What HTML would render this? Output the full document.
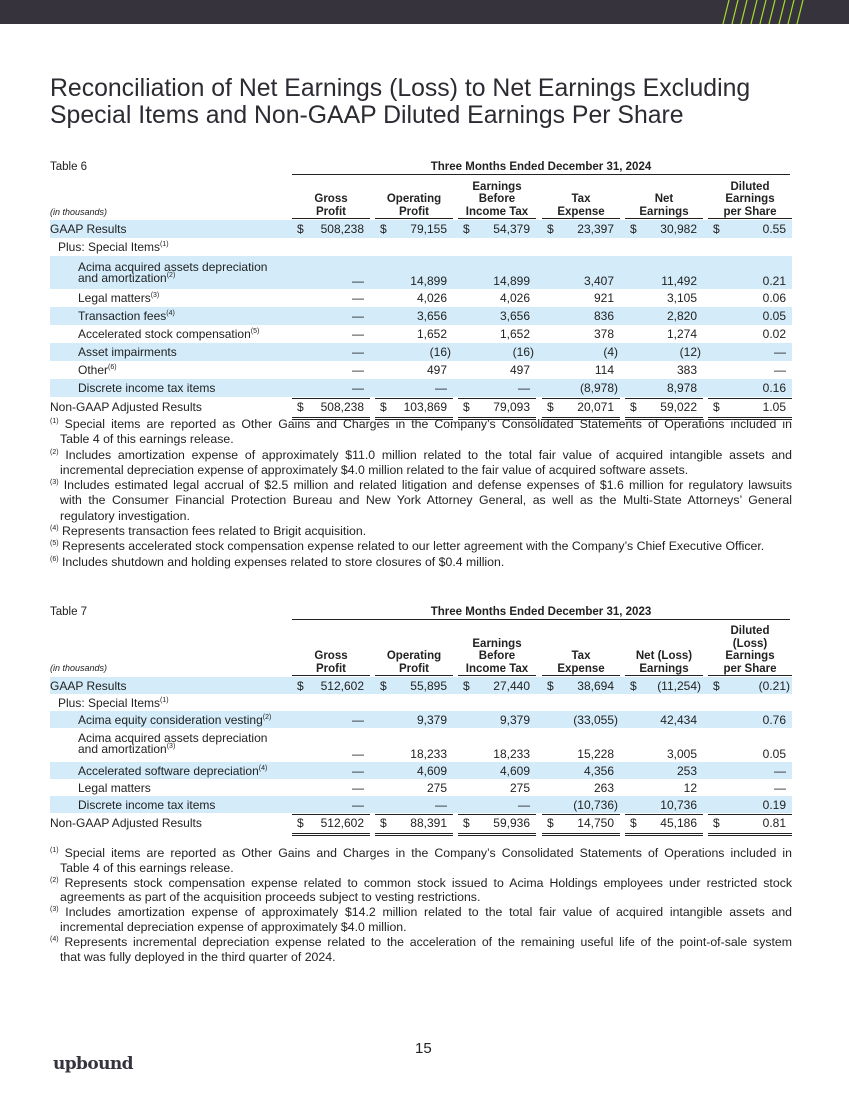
<!DOCTYPE html>
<html><head><meta charset="utf-8"><style>
*{margin:0;padding:0;box-sizing:border-box}
body{width:849px;height:1100px;position:relative;background:#fff;font-family:"Liberation Sans",Arial,sans-serif;color:#222;overflow:hidden}
.bar{position:absolute;left:0;top:0;width:849px;height:24px;background:#36333d;overflow:hidden}
.title{position:absolute;left:50px;top:75px;font-size:24.8px;line-height:27px;color:#2d2a32}
.tbl{position:absolute;left:50px;width:742px}
.tlab{position:absolute;left:0;font-size:11.5px}
.thead{position:absolute;left:242px;width:498px;text-align:center;font-weight:bold;font-size:11.5px;border-bottom:1.5px solid #222;padding-bottom:1px}
.row{position:absolute;left:0;width:742px;font-size:12px;line-height:14px}
.blue{background:#d4ecf9}
.lab{position:absolute;left:4px}
.c{position:absolute;width:78px;height:100%}
.c .d{position:absolute;left:5px}
.c .v{position:absolute;right:6px}
.c .v.p{right:2px}
.hd{position:absolute;width:78px;text-align:center;font-weight:bold;font-size:11.5px;line-height:12.5px;border-bottom:1.5px solid #222}
.ul{border-bottom:1px solid #222}
.dbl{border-bottom:3px double #222}
.fn{position:absolute;left:50px;width:742px;font-size:12.3px}
.fn p{text-align:justify;text-align-last:justify;white-space:nowrap}
.fn p.l{text-align-last:left}
.fn p.i{padding-left:10px}
sup{font-size:7px;vertical-align:5px;line-height:0}
</style></head><body>
<div class="bar">
<svg width="849" height="24" style="position:absolute;left:0;top:0">
<g stroke="#a4dd2a" stroke-width="1.2">
<line x1="723" y1="24" x2="729" y2="0"/><line x1="732" y1="24" x2="738" y2="0"/><line x1="741" y1="24" x2="747" y2="0"/><line x1="751" y1="24" x2="757" y2="0"/><line x1="760" y1="24" x2="766" y2="0"/><line x1="769" y1="24" x2="775" y2="0"/><line x1="779" y1="24" x2="785" y2="0"/><line x1="788" y1="24" x2="794" y2="0"/><line x1="797" y1="24" x2="803" y2="0"/>
</g></svg></div>
<div class="title">Reconciliation of Net Earnings (Loss) to Net Earnings Excluding<br>Special Items and Non-GAAP Diluted Earnings Per Share</div>

<!-- TABLE 6 -->
<div class="tbl" style="top:160px;height:260px">
<div class="tlab" style="top:1px">Table 6</div>
<div class="thead" style="top:1px">Three Months Ended December 31, 2024</div>
<div class="tlab" style="top:47px;font-size:9px;font-style:italic">(in thousands)</div>
<div class="hd" style="left:242px;top:33px">Gross<br>Profit</div>
<div class="hd" style="left:325px;top:33px">Operating<br>Profit</div>
<div class="hd" style="left:408px;top:20.5px">Earnings<br>Before<br>Income Tax</div>
<div class="hd" style="left:492px;top:33px">Tax<br>Expense</div>
<div class="hd" style="left:575px;top:33px">Net<br>Earnings</div>
<div class="hd" style="left:658px;top:20.5px;width:84px">Diluted<br>Earnings<br>per Share</div>

<div class="row blue" style="top:60px;height:18px;padding-top:2px"><span class="lab" style="left:0">GAAP Results</span>
<div class="c" style="left:242px"><span class="d">$</span><span class="v">508,238</span></div>
<div class="c" style="left:325px"><span class="d">$</span><span class="v">79,155</span></div>
<div class="c" style="left:408px"><span class="d">$</span><span class="v">54,379</span></div>
<div class="c" style="left:492px"><span class="d">$</span><span class="v">23,397</span></div>
<div class="c" style="left:575px"><span class="d">$</span><span class="v">30,982</span></div>
<div class="c" style="left:658px;width:84px"><span class="d">$</span><span class="v">0.55</span></div></div>
<div class="row" style="top:78px;height:18px;padding-top:2px"><span class="lab" style="left:8px">Plus: Special Items<sup>(1)</sup></span></div>
<div class="row blue" style="top:96px;height:33px"><span class="lab" style="left:28px;top:6px;line-height:11px">Acima acquired assets depreciation<br>and amortization<sup>(2)</sup></span>
<div class="c" style="left:242px;top:18px"><span class="v">—</span></div>
<div class="c" style="left:325px;top:18px"><span class="v">14,899</span></div>
<div class="c" style="left:408px;top:18px"><span class="v">14,899</span></div>
<div class="c" style="left:492px;top:18px"><span class="v">3,407</span></div>
<div class="c" style="left:575px;top:18px"><span class="v">11,492</span></div>
<div class="c" style="left:658px;width:84px;top:18px"><span class="v">0.21</span></div></div>
<div class="row" style="top:129px;height:18px;padding-top:2px"><span class="lab" style="left:28px">Legal matters<sup>(3)</sup></span>
<div class="c" style="left:242px"><span class="v">—</span></div><div class="c" style="left:325px"><span class="v">4,026</span></div><div class="c" style="left:408px"><span class="v">4,026</span></div><div class="c" style="left:492px"><span class="v">921</span></div><div class="c" style="left:575px"><span class="v">3,105</span></div><div class="c" style="left:658px;width:84px"><span class="v">0.06</span></div></div>
<div class="row blue" style="top:147px;height:18px;padding-top:2px"><span class="lab" style="left:28px">Transaction fees<sup>(4)</sup></span>
<div class="c" style="left:242px"><span class="v">—</span></div><div class="c" style="left:325px"><span class="v">3,656</span></div><div class="c" style="left:408px"><span class="v">3,656</span></div><div class="c" style="left:492px"><span class="v">836</span></div><div class="c" style="left:575px"><span class="v">2,820</span></div><div class="c" style="left:658px;width:84px"><span class="v">0.05</span></div></div>
<div class="row" style="top:165px;height:18px;padding-top:2px"><span class="lab" style="left:28px">Accelerated stock compensation<sup>(5)</sup></span>
<div class="c" style="left:242px"><span class="v">—</span></div><div class="c" style="left:325px"><span class="v">1,652</span></div><div class="c" style="left:408px"><span class="v">1,652</span></div><div class="c" style="left:492px"><span class="v">378</span></div><div class="c" style="left:575px"><span class="v">1,274</span></div><div class="c" style="left:658px;width:84px"><span class="v">0.02</span></div></div>
<div class="row blue" style="top:183px;height:18px;padding-top:2px"><span class="lab" style="left:28px">Asset impairments</span>
<div class="c" style="left:242px"><span class="v">—</span></div><div class="c" style="left:325px"><span class="v p">(16)</span></div><div class="c" style="left:408px"><span class="v p">(16)</span></div><div class="c" style="left:492px"><span class="v p">(4)</span></div><div class="c" style="left:575px"><span class="v p">(12)</span></div><div class="c" style="left:658px;width:84px"><span class="v">—</span></div></div>
<div class="row" style="top:201px;height:18px;padding-top:2px"><span class="lab" style="left:28px">Other<sup>(6)</sup></span>
<div class="c" style="left:242px"><span class="v">—</span></div><div class="c" style="left:325px"><span class="v">497</span></div><div class="c" style="left:408px"><span class="v">497</span></div><div class="c" style="left:492px"><span class="v">114</span></div><div class="c" style="left:575px"><span class="v">383</span></div><div class="c" style="left:658px;width:84px"><span class="v">—</span></div></div>
<div class="row blue" style="top:219px;height:18px;padding-top:2px"><span class="lab" style="left:28px">Discrete income tax items</span>
<div class="c ul" style="left:242px"><span class="v">—</span></div><div class="c ul" style="left:325px"><span class="v">—</span></div><div class="c ul" style="left:408px"><span class="v">—</span></div><div class="c ul" style="left:492px"><span class="v p">(8,978)</span></div><div class="c ul" style="left:575px"><span class="v">8,978</span></div><div class="c ul" style="left:658px;width:84px"><span class="v">0.16</span></div></div>
<div class="row" style="top:237px;height:20px;padding-top:3px"><span class="lab" style="left:0">Non-GAAP Adjusted Results</span>
<div class="c dbl" style="left:242px"><span class="d">$</span><span class="v">508,238</span></div>
<div class="c dbl" style="left:325px"><span class="d">$</span><span class="v">103,869</span></div>
<div class="c dbl" style="left:408px"><span class="d">$</span><span class="v">79,093</span></div>
<div class="c dbl" style="left:492px"><span class="d">$</span><span class="v">20,071</span></div>
<div class="c dbl" style="left:575px"><span class="d">$</span><span class="v">59,022</span></div>
<div class="c dbl" style="left:658px;width:84px"><span class="d">$</span><span class="v">1.05</span></div></div>
</div>
<div class="fn" style="top:417px;line-height:15.3px">
<p><sup>(1)</sup> Special items are reported as Other Gains and Charges in the Company’s Consolidated Statements of Operations included in</p>
<p class="i l">Table 4 of this earnings release.</p>
<p><sup>(2)</sup> Includes amortization expense of approximately $11.0 million related to the total fair value of acquired intangible assets and</p>
<p class="i l">incremental depreciation expense of approximately $4.0 million related to the fair value of acquired software assets.</p>
<p><sup>(3)</sup> Includes estimated legal accrual of $2.5 million and related litigation and defense expenses of $1.6 million for regulatory lawsuits</p>
<p class="i">with the Consumer Financial Protection Bureau and New York Attorney General, as well as the Multi-State Attorneys’ General</p>
<p class="i l">regulatory investigation.</p>
<p class="l"><sup>(4)</sup> Represents transaction fees related to Brigit acquisition.</p>
<p class="l"><sup>(5)</sup> Represents accelerated stock compensation expense related to our letter agreement with the Company’s Chief Executive Officer.</p>
<p class="l"><sup>(6)</sup> Includes shutdown and holding expenses related to store closures of $0.4 million.</p>
</div>

<!-- TABLE 7 -->
<div class="tbl" style="top:605px;height:240px">
<div class="tlab" style="top:1px">Table 7</div>
<div class="thead" style="top:1px">Three Months Ended December 31, 2023</div>
<div class="tlab" style="top:58px;font-size:9px;font-style:italic">(in thousands)</div>
<div class="hd" style="left:242px;top:45px">Gross<br>Profit</div>
<div class="hd" style="left:325px;top:45px">Operating<br>Profit</div>
<div class="hd" style="left:408px;top:32.5px">Earnings<br>Before<br>Income Tax</div>
<div class="hd" style="left:492px;top:45px">Tax<br>Expense</div>
<div class="hd" style="left:575px;top:45px">Net (Loss)<br>Earnings</div>
<div class="hd" style="left:658px;top:20px;width:84px">Diluted<br>(Loss)<br>Earnings<br>per Share</div>

<div class="row blue" style="top:72px;height:17px;padding-top:2px"><span class="lab" style="left:0">GAAP Results</span>
<div class="c" style="left:242px"><span class="d">$</span><span class="v">512,602</span></div>
<div class="c" style="left:325px"><span class="d">$</span><span class="v">55,895</span></div>
<div class="c" style="left:408px"><span class="d">$</span><span class="v">27,440</span></div>
<div class="c" style="left:492px"><span class="d">$</span><span class="v">38,694</span></div>
<div class="c" style="left:575px"><span class="d">$</span><span class="v p">(11,254)</span></div>
<div class="c" style="left:658px;width:84px"><span class="d">$</span><span class="v p">(0.21)</span></div></div>
<div class="row" style="top:89px;height:17px;padding-top:2px"><span class="lab" style="left:8px">Plus: Special Items<sup>(1)</sup></span></div>
<div class="row blue" style="top:106px;height:17px;padding-top:2px"><span class="lab" style="left:28px">Acima equity consideration vesting<sup>(2)</sup></span>
<div class="c" style="left:242px"><span class="v">—</span></div><div class="c" style="left:325px"><span class="v">9,379</span></div><div class="c" style="left:408px"><span class="v">9,379</span></div><div class="c" style="left:492px"><span class="v p">(33,055)</span></div><div class="c" style="left:575px"><span class="v">42,434</span></div><div class="c" style="left:658px;width:84px"><span class="v">0.76</span></div></div>
<div class="row" style="top:123px;height:34px"><span class="lab" style="left:28px;top:5px;line-height:11px">Acima acquired assets depreciation<br>and amortization<sup>(3)</sup></span>
<div class="c" style="left:242px;top:19px"><span class="v">—</span></div>
<div class="c" style="left:325px;top:19px"><span class="v">18,233</span></div>
<div class="c" style="left:408px;top:19px"><span class="v">18,233</span></div>
<div class="c" style="left:492px;top:19px"><span class="v">15,228</span></div>
<div class="c" style="left:575px;top:19px"><span class="v">3,005</span></div>
<div class="c" style="left:658px;width:84px;top:19px"><span class="v">0.05</span></div></div>
<div class="row blue" style="top:157px;height:17px;padding-top:2px"><span class="lab" style="left:28px">Accelerated software depreciation<sup>(4)</sup></span>
<div class="c" style="left:242px"><span class="v">—</span></div><div class="c" style="left:325px"><span class="v">4,609</span></div><div class="c" style="left:408px"><span class="v">4,609</span></div><div class="c" style="left:492px"><span class="v">4,356</span></div><div class="c" style="left:575px"><span class="v">253</span></div><div class="c" style="left:658px;width:84px"><span class="v">—</span></div></div>
<div class="row" style="top:174px;height:17px;padding-top:2px"><span class="lab" style="left:28px">Legal matters</span>
<div class="c" style="left:242px"><span class="v">—</span></div><div class="c" style="left:325px"><span class="v">275</span></div><div class="c" style="left:408px"><span class="v">275</span></div><div class="c" style="left:492px"><span class="v">263</span></div><div class="c" style="left:575px"><span class="v">12</span></div><div class="c" style="left:658px;width:84px"><span class="v">—</span></div></div>
<div class="row blue" style="top:191px;height:17px;padding-top:2px"><span class="lab" style="left:28px">Discrete income tax items</span>
<div class="c ul" style="left:242px"><span class="v">—</span></div><div class="c ul" style="left:325px"><span class="v">—</span></div><div class="c ul" style="left:408px"><span class="v">—</span></div><div class="c ul" style="left:492px"><span class="v p">(10,736)</span></div><div class="c ul" style="left:575px"><span class="v">10,736</span></div><div class="c ul" style="left:658px;width:84px"><span class="v">0.19</span></div></div>
<div class="row" style="top:208px;height:20px;padding-top:3px"><span class="lab" style="left:0">Non-GAAP Adjusted Results</span>
<div class="c dbl" style="left:242px"><span class="d">$</span><span class="v">512,602</span></div>
<div class="c dbl" style="left:325px"><span class="d">$</span><span class="v">88,391</span></div>
<div class="c dbl" style="left:408px"><span class="d">$</span><span class="v">59,936</span></div>
<div class="c dbl" style="left:492px"><span class="d">$</span><span class="v">14,750</span></div>
<div class="c dbl" style="left:575px"><span class="d">$</span><span class="v">45,186</span></div>
<div class="c dbl" style="left:658px;width:84px"><span class="d">$</span><span class="v">0.81</span></div></div>
</div>
<div class="fn" style="top:846px;line-height:14.8px">
<p><sup>(1)</sup> Special items are reported as Other Gains and Charges in the Company’s Consolidated Statements of Operations included in</p>
<p class="i l">Table 4 of this earnings release.</p>
<p><sup>(2)</sup> Represents stock compensation expense related to common stock issued to Acima Holdings employees under restricted stock</p>
<p class="i l">agreements as part of the acquisition proceeds subject to vesting restrictions.</p>
<p><sup>(3)</sup> Includes amortization expense of approximately $14.2 million related to the total fair value of acquired intangible assets and</p>
<p class="i l">incremental depreciation expense of approximately $4.0 million.</p>
<p><sup>(4)</sup> Represents incremental depreciation expense related to the acceleration of the remaining useful life of the point-of-sale system</p>
<p class="i l">that was fully deployed in the third quarter of 2024.</p>
</div>

<div style="position:absolute;left:415px;top:1040px;font-size:15px">15</div>
<div style="position:absolute;left:53px;top:1054px;font-family:'DejaVu Serif','Liberation Serif',serif;font-weight:bold;font-size:17px;color:#36333d;letter-spacing:-0.6px">upbound</div>
</body></html>
